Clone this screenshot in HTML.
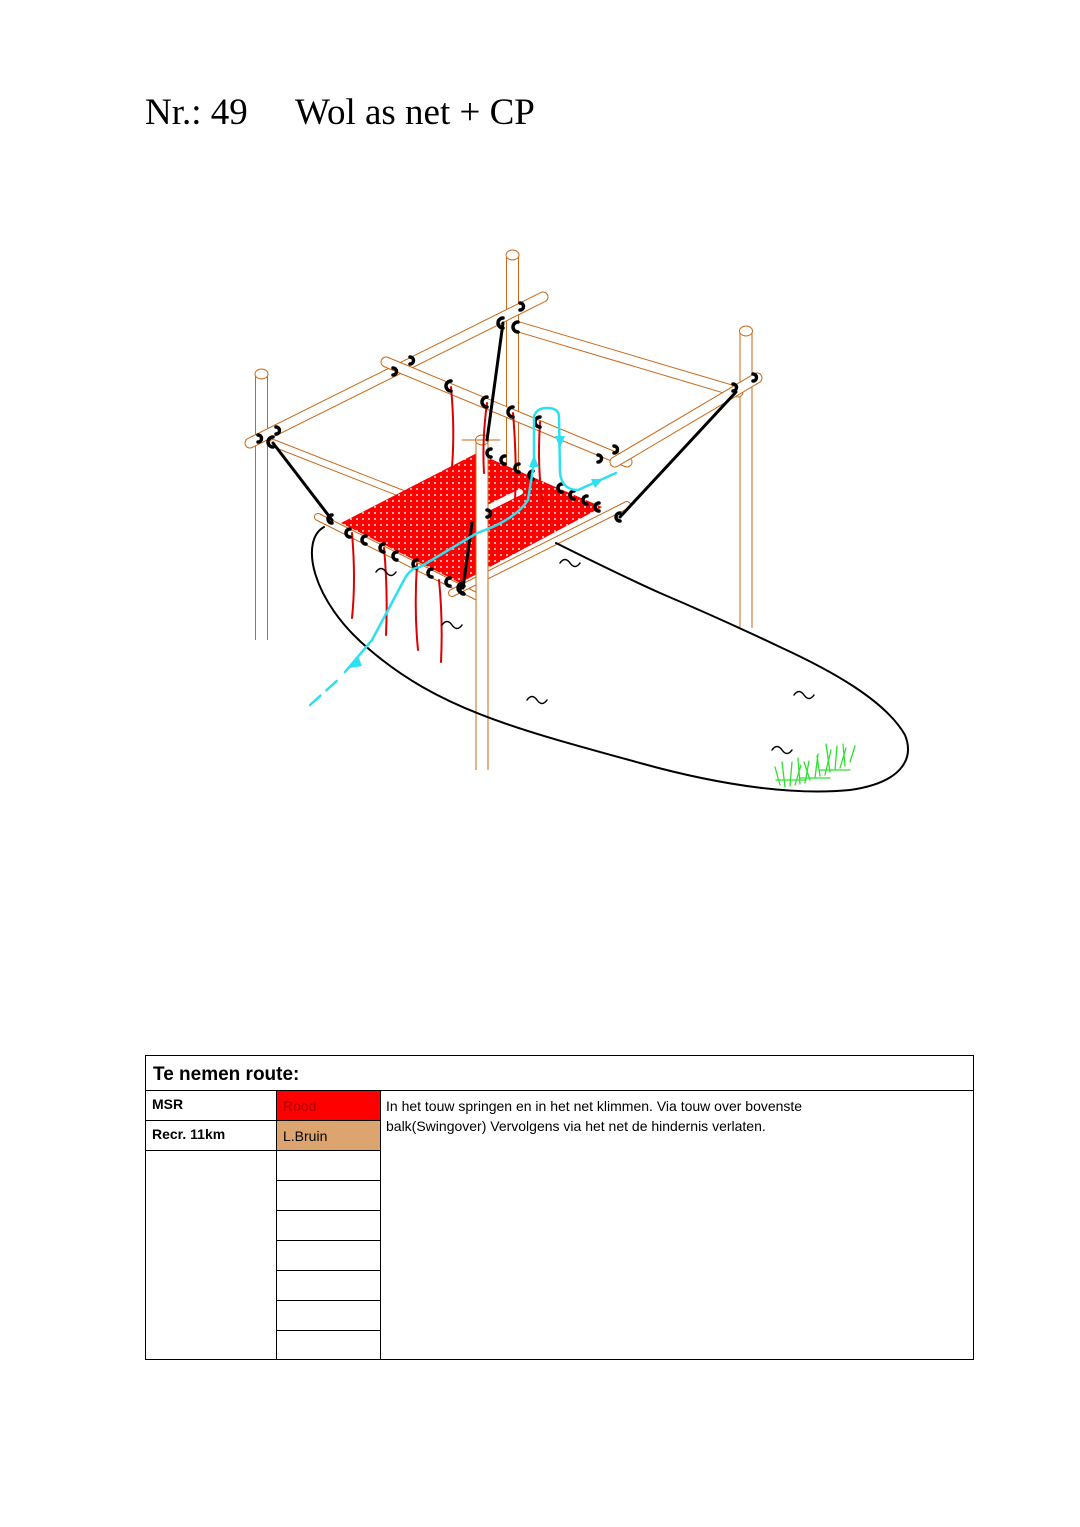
<!DOCTYPE html>
<html><head><meta charset="utf-8"><style>
body{margin:0;background:#fff;}
.page{position:relative;width:1080px;height:1527px;overflow:hidden;background:#fff;}
.t{position:absolute;font-family:"Liberation Serif",serif;font-size:37px;top:91px;}
.a{position:absolute;font-family:"Liberation Sans",sans-serif;font-size:14px;white-space:nowrap;}
.h{position:absolute;background:#000;height:1px;}
.v{position:absolute;background:#000;width:1px;}
</style></head><body><div class="page">
<div class="t" style="left:145px">Nr.: 49</div>
<div class="t" style="left:295px">Wol as net + CP</div>
<svg width="1080" height="1527" style="position:absolute;left:0;top:0">
<defs>
<pattern id="p" width="6" height="6" patternUnits="userSpaceOnUse"><rect width="6" height="6" fill="#f00"/><circle cx="3" cy="3" r="1.1" fill="#fbb"/></pattern>
</defs>
<g stroke-linecap="round" fill="none">
<g>
<line x1="261.5" y1="376" x2="261.5" y2="640" stroke="#c8691a" stroke-width="13" stroke-linecap="butt"/><line x1="261.5" y1="376" x2="261.5" y2="641" stroke="#fff" stroke-width="11" stroke-linecap="butt"/>
<ellipse cx="261.5" cy="374" rx="6.5" ry="5" stroke="#c8691a" fill="#fff"/>
<line x1="512.5" y1="256" x2="512.5" y2="470" stroke="#c8691a" stroke-width="13" stroke-linecap="butt"/><line x1="512.5" y1="256" x2="512.5" y2="470" stroke="#fff" stroke-width="11" stroke-linecap="butt"/>
<ellipse cx="512.5" cy="255" rx="6.5" ry="5" stroke="#c8691a" fill="#fff"/>
<line x1="746" y1="332" x2="746" y2="628" stroke="#c8691a" stroke-width="13" stroke-linecap="butt"/><line x1="746" y1="332" x2="746" y2="629" stroke="#fff" stroke-width="11" stroke-linecap="butt"/>
<ellipse cx="746" cy="331" rx="6.5" ry="5" stroke="#c8691a" fill="#fff"/>
</g>
<g>
<line x1="250" y1="443" x2="543" y2="297" stroke="#c8691a" stroke-width="11"/><line x1="250" y1="443" x2="543" y2="297" stroke="#fff" stroke-width="9"/>
<line x1="519" y1="327" x2="738" y2="392" stroke="#c8691a" stroke-width="11"/><line x1="519" y1="327" x2="738" y2="392" stroke="#fff" stroke-width="9"/>
<line x1="386" y1="362" x2="627" y2="462" stroke="#c8691a" stroke-width="11"/><line x1="386" y1="362" x2="627" y2="462" stroke="#fff" stroke-width="9"/>
<line x1="615" y1="462" x2="757" y2="378" stroke="#c8691a" stroke-width="11"/><line x1="615" y1="462" x2="757" y2="378" stroke="#fff" stroke-width="9"/>
<line x1="273" y1="443" x2="477" y2="523" stroke="#c8691a" stroke-width="8"/><line x1="273" y1="443" x2="477" y2="523" stroke="#fff" stroke-width="6"/>
</g>
<polygon points="341,523 477,453 602,507 460,583" fill="url(#p)" stroke="none"/>
<line x1="520" y1="492" x2="480" y2="512" stroke="#fff" stroke-width="6"/>
<line x1="318" y1="517" x2="480" y2="598" stroke="#c8691a" stroke-width="8"/><line x1="318" y1="517" x2="480" y2="598" stroke="#fff" stroke-width="6"/>
<line x1="452" y1="593" x2="627" y2="505" stroke="#c8691a" stroke-width="8"/><line x1="452" y1="593" x2="627" y2="505" stroke="#fff" stroke-width="6"/>
<line x1="482" y1="442" x2="482" y2="770" stroke="#c8691a" stroke-width="13" stroke-linecap="butt"/><line x1="482" y1="442" x2="482" y2="771" stroke="#fff" stroke-width="11" stroke-linecap="butt"/>
<ellipse cx="482" cy="440" rx="6.5" ry="5" stroke="#c8691a" fill="#fff"/>
<line x1="462" y1="440" x2="500" y2="440" stroke="#c8691a" stroke-width="1"/>
<path d="M324,527 C300,540 310,600 370,650 C440,710 520,730 640,763 C730,788 800,795 850,790 C900,783 915,760 905,735 C885,700 830,670 780,647 C740,628 700,610 660,593 C620,575 580,555 556,543" stroke="#000" stroke-width="2"/>
<g stroke="#000" stroke-width="3">
<line x1="273" y1="443" x2="332" y2="520"/><line x1="736" y1="392" x2="620" y2="517"/>
<line x1="503" y1="323" x2="487" y2="440"/><line x1="472" y1="523" x2="463" y2="588"/>
</g>
<g stroke="#d00" stroke-width="2">
<path d="M451,387 Q455,430 452,467"/><path d="M487,403 Q482,440 484,473"/><path d="M513,413 Q517,460 515,500"/><path d="M540,422 Q537,470 543,503"/>
<path d="M352,533 Q356,580 352,618"/><path d="M384,548 Q388,590 386,635"/><path d="M417,564 Q414,610 418,650"/><path d="M439,580 Q443,620 441,662"/>
</g>
<g stroke="#000" stroke-width="3.5">
<path d="M350,529 a4,4 0 0 0 0,8"/><path d="M366,536 a4,4 0 0 0 0,8"/><path d="M384,544 a4,4 0 0 0 0,8"/><path d="M397,552 a4,4 0 0 0 0,8"/><path d="M417,560 a4,4 0 0 0 0,8"/><path d="M432,569 a4,4 0 0 0 0,8"/><path d="M450,578 a4,4 0 0 0 0,8"/><path d="M464,586 a4,4 0 0 0 0,8"/>
<path d="M491,449 a4,4 0 0 0 0,8"/><path d="M505,456 a4,4 0 0 0 0,8"/><path d="M519,464 a4,4 0 0 0 0,8"/><path d="M533,471 a4,4 0 0 0 0,8"/><path d="M562,484 a4,4 0 0 0 0,8"/><path d="M574,491 a4,4 0 0 0 0,8"/><path d="M587,496 a4,4 0 0 0 0,8"/><path d="M599,503 a4,4 0 0 0 0,8"/>
<path d="M451,381 a5,5 0 0 0 0,10"/><path d="M487,397 a5,5 0 0 0 0,10"/><path d="M513,407 a5,5 0 0 0 0,10"/><path d="M540,417 a5,5 0 0 0 0,10"/>
<path d="M503,318 a5,5 0 0 0 0,10"/><path d="M518,322 a5,5 0 0 0 0,10"/><path d="M273,437 a5,5 0 0 0 0,10"/><path d="M332,515 a4,4 0 0 0 0,8"/><path d="M620,513 a4,4 0 0 0 0,8"/><path d="M463,583 a5,5 0 0 0 0,10"/>
<path d="M393,368 a3,3 0 0 1 0,7"/><path d="M410,357 a3,3 0 0 1 0,7"/><path d="M276,427 a3,3 0 0 1 0,7"/><path d="M258,435 a3,3 0 0 1 0,7"/><path d="M520,303 a3,3 0 0 1 0,7"/><path d="M598,455 a3,3 0 0 1 0,7"/><path d="M614,446 a3,3 0 0 1 0,7"/><path d="M733,384 a3,3 0 0 1 0,7"/><path d="M753,374 a3,3 0 0 1 0,7"/><path d="M487,510 a3,3 0 0 1 0,7"/>
</g>
<g stroke="#2de0f0" stroke-width="2.5">
<path d="M310,705 L340,678" stroke-dasharray="14,8"/>
<path d="M345,672 L372,640 L404,580 Q410,568 420,567 L477,533 Q515,520 528,500 L534,463 L534,417 Q536,408 547,408 Q559,408 559,417 L560,473 Q562,490 578,490 L616,473"/>
</g>
<g fill="#2de0f0">
<polygon points="358,656 350,668 362,666"/><polygon points="534,455 529,467 539,467"/><polygon points="560,448 555,436 565,436"/><polygon points="603,479 591,479 595,488"/>
</g>
<g stroke="#000" stroke-width="1.5">
<path d="M376,572 q5,-7 10,0 q5,7 10,0"/><path d="M442,625 q5,-7 10,0 q5,7 10,0"/><path d="M560,563 q5,-7 10,0 q5,7 10,0"/><path d="M527,700 q5,-7 10,0 q5,7 10,0"/><path d="M794,695 q5,-7 10,0 q5,7 10,0"/><path d="M772,750 q5,-7 10,0 q5,7 10,0"/>
</g>
<g stroke="#2ee02e" stroke-width="1.3">
<path d="M780,785 l-5,-18 M785,787 l-3,-25 M790,786 l2,-24 M795,785 l6,-20 M800,784 l-2,-26 M805,783 l4,-22 M810,780 l-6,-18 M815,778 l3,-24 M820,776 l-3,-20 M825,775 l6,-25 M830,772 l-4,-28 M835,770 l2,-24 M840,768 l6,-20 M845,766 l-2,-22 M850,762 l5,-16"/>
<path d="M776,780 h30 M800,778 h30 M820,770 h30"/>
</g>
</g>
</svg>
<div style="position:absolute;left:145px;top:1055px;width:827px;height:303px;border:1px solid #000"></div>
<div style="position:absolute;left:277px;top:1091px;width:103px;height:29px;background:#f00"></div>
<div style="position:absolute;left:277px;top:1121px;width:103px;height:29px;background:#dca46e"></div>
<div class="h" style="left:145px;top:1090px;width:829px"></div>
<div class="v" style="left:276px;top:1090px;height:269px"></div>
<div class="v" style="left:380px;top:1090px;height:269px"></div>
<div class="h" style="left:145px;top:1120px;width:235px"></div>
<div class="h" style="left:145px;top:1150px;width:235px"></div>
<div class="h" style="left:276px;top:1180px;width:104px"></div>
<div class="h" style="left:276px;top:1210px;width:104px"></div>
<div class="h" style="left:276px;top:1240px;width:104px"></div>
<div class="h" style="left:276px;top:1270px;width:104px"></div>
<div class="h" style="left:276px;top:1300px;width:104px"></div>
<div class="h" style="left:276px;top:1330px;width:104px"></div>
<div class="a" style="left:153px;top:1064px;font-size:19px;font-weight:bold">Te nemen route:</div>
<div class="a" style="left:152px;top:1096px;font-weight:bold">MSR</div>
<div class="a" style="left:152px;top:1126px;font-weight:bold">Recr. 11km</div>
<div class="a" style="left:283px;top:1098px;color:#b00000">Rood</div>
<div class="a" style="left:283px;top:1128px">L.Bruin</div>
<div class="a" style="left:386px;top:1096px;line-height:20px;font-size:14px">In het touw springen en in het net klimmen. Via touw over bovenste<br>balk(Swingover) Vervolgens via het net de hindernis verlaten.</div>
</div></body></html>
